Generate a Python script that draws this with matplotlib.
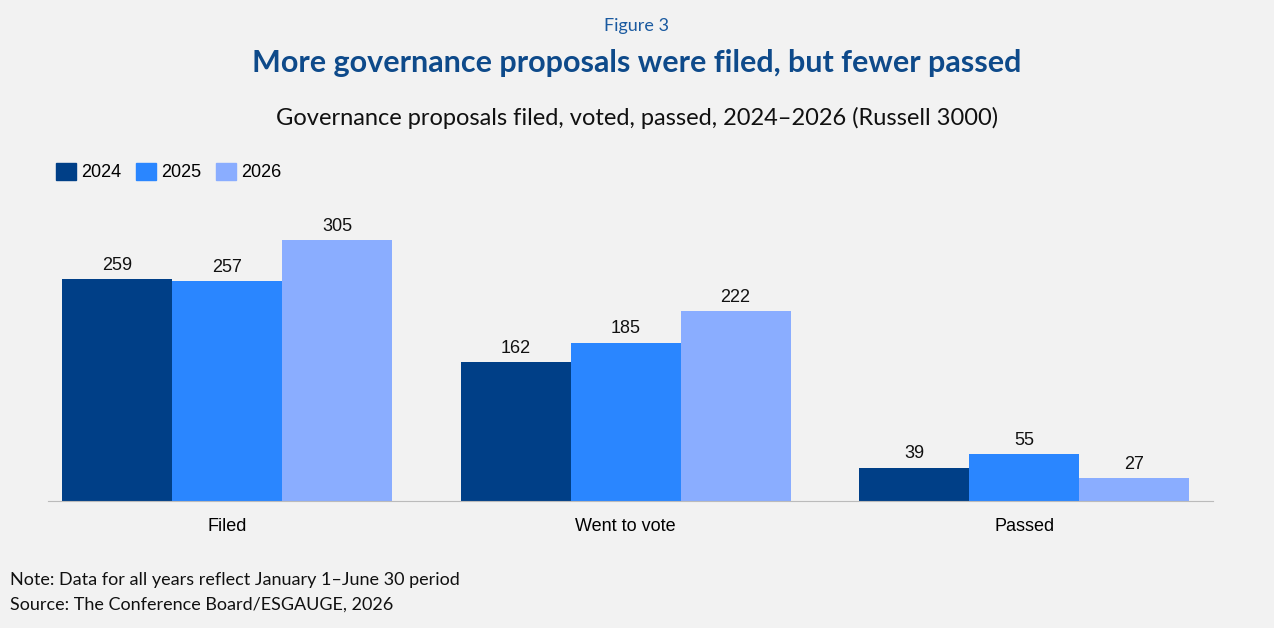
import matplotlib
matplotlib.use('Agg')
import matplotlib.pyplot as plt
import numpy as np
from matplotlib.patches import Patch

categories = ['Filed', 'Went to vote', 'Passed']
years = ['2024', '2025', '2026']
values_2024 = [259, 162, 39]
values_2025 = [257, 185, 55]
values_2026 = [305, 222, 27]
colors = ['#003f87', '#2a86ff', '#8aadff']

BG = '#f2f2f2'
W, H = 1274, 628
fig = plt.figure(figsize=(W / 100, H / 100), dpi=100, facecolor=BG)
ax = fig.add_axes([48 / W, 1 - 501 / H, (1213 - 48) / W, 311 / H], facecolor=BG)

x = np.arange(len(categories))
width = 0.276
for i, (vals, col) in enumerate(zip([values_2024, values_2025, values_2026], colors)):
    bars = ax.bar(x + (i - 1) * width, vals, width, color=col, zorder=2)
    for b, v in zip(bars, vals):
        ax.text(b.get_x() + b.get_width() / 2, v + 6, str(v), ha='center', va='bottom',
                fontsize=13, family='Liberation Sans', color='#111111')

ax.set_xlim(-0.449, 2.474)
ax.set_ylim(0, 363)
ax.set_xticks(x)
ax.set_xticklabels(categories, fontsize=13, family='Liberation Sans')
ax.tick_params(axis='x', length=0, pad=12)
ax.set_yticks([])
for s in ['top', 'right', 'left']:
    ax.spines[s].set_visible(False)
ax.spines['bottom'].set_color('#bbbbbb')

handles = [Patch(color=c, label=y) for c, y in zip(colors, years)]
fig.legend(handles=handles, loc='center left', bbox_to_anchor=(40 / W, 1 - 172 / H), ncol=3,
           frameon=False, prop={'family': 'Liberation Sans', 'size': 13},
           handlelength=1.1, handleheight=1.1, handletextpad=0.3, columnspacing=0.8)

fig.text(0.5, 1 - 26 / H, 'Figure 3', ha='center', va='center', fontsize=13,
         family='Lato', color='#1a5aa0')
fig.text(0.5, 1 - 63 / H, 'More governance proposals were filed, but fewer passed', ha='center',
         va='center', fontsize=22, family='Lato', weight='bold', color='#0e4a8a')
fig.text(0.5, 1 - 118 / H, 'Governance proposals filed, voted, passed, 2024\u20132026 (Russell 3000)',
         ha='center', va='center', fontsize=17, family='Lato', color='#111111')
fig.text(10 / W, 1 - 580 / H, 'Note: Data for all years reflect January 1\u2013June 30 period',
         ha='left', va='center', fontsize=13, family='Lato', color='#111111')
fig.text(10 / W, 1 - 605 / H, 'Source: The Conference Board/ESGAUGE, 2026',
         ha='left', va='center', fontsize=13, family='Lato', color='#111111')

fig.savefig('out.png', dpi=100, facecolor=BG)
